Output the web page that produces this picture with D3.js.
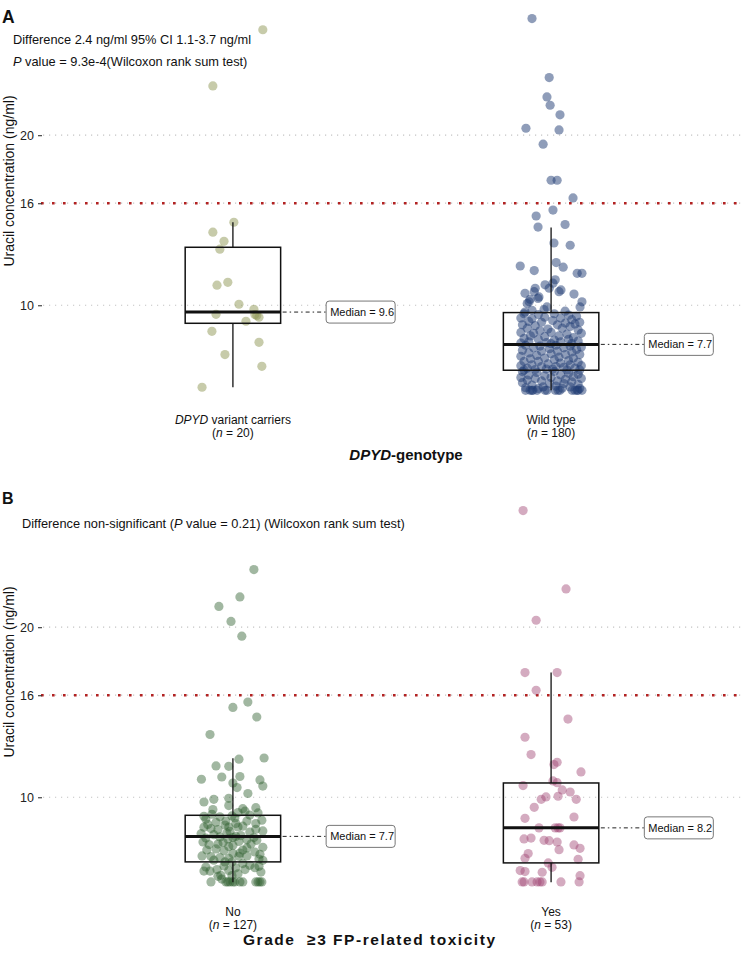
<!DOCTYPE html>
<html><head><meta charset="utf-8">
<script src="https://cdn.jsdelivr.net/npm/d3@7"></script>
<style>body{margin:0;background:#fff}svg{display:block;font-family:"Liberation Sans",Arial,Helvetica,sans-serif}</style>
</head><body><svg id="c" width="743" height="953"></svg>
<script>
// ---------- data ----------
const categoriesA = ["DPYD variant carriers", "Wild type"];
const countsA = [20, 180];
const categoriesB = ["No", "Yes"];
const countsB = [127, 53];
const yTicks = [10, 16, 20];
const thresholdValues = [16];
// box stats: [lower whisker, Q1, median, Q3, upper whisker]
const boxA = [[5.18, 8.94, 9.6, 13.41, 14.88], [5.0, 6.18, 7.7, 9.57, 14.57]];
const boxB = [[5.0, 6.2, 7.7, 8.94, 12.3], [5.0, 6.14, 8.2, 10.84, 17.33]];
// points: [jitter (-1..1 of jitter width), uracil ng/ml]
const carriersPts = [[0.03,14.88],[-0.63,14.3],[-0.28,13.76],[-0.41,13.3],[-0.5,11.18],[-0.16,11.35],[0.19,10.06],
 [-0.53,9.47],[0.66,9.76],[0.75,9.4],[0.82,9.3],[0.69,9.45],[0.41,9.06],[-0.66,8.47],[0.82,7.82],[-0.25,7.1],
 [0.91,6.41],[-0.97,5.18],[0.94,26.2],[-0.63,22.9]];
const wildTypePts = [[-0.6,26.86],[-0.06,23.39],[-0.13,22.25],[-0.03,21.76],[0.28,21.2],[-0.79,20.41],[0.25,20.31],
 [-0.25,19.47],[0.0,17.35],[0.19,17.35],[0.69,16.31],[0.06,15.6],[-0.47,15.25],[-0.41,14.6],[0.44,14.75],[0.09,13.66],
 [0.6,13.53],[-0.97,12.31],[-0.53,12.04],[0.16,12.51],[0.38,12.24],[0.82,11.88],[0.97,11.88],[0.13,11.5],[0.06,11.3],
 [-0.19,11.2],[-0.06,11.0],[-0.5,11.0],[-0.53,10.8],[-0.82,10.7],[0.31,10.9],[0.25,10.8],[0.72,10.66],[-0.38,10.49],
 [-0.66,10.35],[-0.75,10.1],[0.97,10.2],[-0.13,9.9],[0.91,9.9],[-0.6,9.7],[0.44,9.65],[-0.22,9.75],[-0.82,9.6],
 [-0.69,10.2],[-0.41,10.4],
 [-0.85,9.5],[-0.4,9.45],[0.1,9.5],[0.55,9.42],[0.8,9.35],[-0.95,9.25],[-0.6,9.2],[-0.2,9.3],[0.3,9.25],[0.65,9.15],
 [-0.7,9.05],[-0.3,9.0],[0.05,9.1],[0.45,8.95],[0.9,9.0],[-0.9,8.85],[-0.5,8.8],[0.2,8.85],[0.6,8.75],[0.75,8.9],
 [-0.75,8.65],[-0.1,8.6],[0.35,8.65],[0.85,8.55],[-0.35,8.5],[-0.95,8.4],[-0.55,8.35],[0.0,8.4],[0.5,8.3],[0.95,8.35],
 [-0.65,8.2],[-0.2,8.15],[0.25,8.2],[0.7,8.1],[-0.85,8.05],[-0.4,8.0],[0.1,7.95],[0.55,8.0],[0.85,7.9],[-0.7,7.85],
 [-0.15,7.8],[0.3,7.85],[0.65,7.75],[-0.95,7.78],[0.0,7.74],
 [-0.8,7.65],[-0.35,7.6],[0.15,7.65],[0.6,7.6],[0.95,7.55],[-0.55,7.5],[-0.05,7.45],[0.4,7.5],[0.8,7.4],[-0.9,7.35],
 [-0.3,7.3],[0.2,7.3],[0.65,7.25],[-0.7,7.2],[0.0,7.15],[0.45,7.1],[0.9,7.1],[-0.45,7.05],[-0.95,7.0],[0.25,6.95],
 [0.7,6.9],[-0.2,6.9],[-0.65,6.85],[0.1,6.8],[0.55,6.75],[-0.85,6.7],[-0.4,6.7],[0.85,6.65],[0.3,6.6],[-0.1,6.55],
 [-0.6,6.5],[0.6,6.5],[0.95,6.45],[-0.95,6.45],[-0.3,6.4],[0.15,6.4],[0.4,6.35],[-0.75,6.3],[0.75,6.3],[-0.15,6.25],
 [0.05,6.25],[-0.5,6.22],[0.5,6.2],[0.9,6.2],[-0.85,6.19],
 [-0.9,6.1],[-0.45,6.05],[0.1,6.1],[0.55,6.0],[0.85,5.95],[-0.7,5.9],[-0.2,5.85],[0.3,5.9],[0.7,5.8],[-0.95,5.75],
 [-0.5,5.7],[0.0,5.75],[0.45,5.65],[0.95,5.7],[-0.75,5.6],[-0.3,5.55],[0.2,5.55],[0.65,5.5],[-0.9,5.45],[-0.05,5.4],
 [0.4,5.4],[0.85,5.35],[-0.6,5.3],[0.15,5.25],[-0.25,5.2],[0.6,5.2],[-0.8,5.15],[0.9,5.1],[0.35,5.12],[-0.4,5.1],
 [-0.66,5.0],[-0.6,5.0],[-0.57,5.0],[-0.44,5.0],[-0.19,5.0],[-0.13,5.0],[0.13,5.0],[0.22,5.0],[0.28,5.0],[0.66,5.0],
 [0.75,5.0],[0.82,5.0],[0.85,5.0],[0.97,5.0],[-0.8,5.0]];
const noToxPts = [[0.66,23.39],[0.22,21.78],[-0.44,21.22],[-0.06,20.34],[0.28,19.47],[0.0,15.28],[0.47,15.6],[0.75,14.72],
 [-0.72,13.69],[0.19,12.24],[0.98,12.31],[-0.53,11.84],[-0.13,11.82],[-0.99,11.06],[-0.35,11.19],[0.22,11.22],[0.0,10.84],
 [0.13,10.57],[0.85,11.02],[0.94,10.66],[0.47,10.22],[-0.91,9.72],[-0.6,9.88],[-0.13,9.94],[-0.13,9.51],[0.31,9.33],
 [0.38,9.18],[0.72,9.39],[0.79,9.08],[-0.63,9.28],[-0.91,8.88],[-0.03,8.9],[0.06,8.78],[-0.85,8.72],[-0.53,8.53],
 [-0.25,8.37],[0.44,8.6],[0.72,8.45],[0.91,8.65],[-0.91,8.24],[-0.69,8.16],[-0.13,8.25],[0.16,8.25],[0.72,8.12],
 [0.94,8.02],[-1.0,7.86],[-0.19,7.9],[0.25,7.75],[0.66,7.63],[-0.41,7.67],[0.0,7.63],[-0.94,7.37],[-0.75,7.22],
 [-0.31,7.34],[0.0,7.18],[0.44,7.02],[0.75,7.47],[0.94,7.06],[-0.53,6.96],[0.22,6.72],[0.69,6.78],[-0.97,6.55],
 [-0.69,6.51],[-0.41,6.45],[-0.13,6.41],[-0.03,6.19],[0.19,6.53],[0.82,6.37],[0.94,6.29],[-0.91,5.66],[-0.72,5.66],
 [-0.5,5.75],[-0.28,5.96],[0.38,5.75],[0.69,5.86],[0.82,5.94],[-0.35,5.19],[-0.38,5.41],
 [-0.69,5.02],[-0.22,5.02],[-0.16,5.02],[-0.09,5.02],[0.0,5.02],[0.06,5.02],[0.22,5.02],[0.31,5.02],[0.72,5.02],
 [0.79,5.02],[0.85,5.02],[0.91,5.02],
 [-0.66,9.0],[-0.41,8.85],[0.16,9.1],[0.53,8.95],[-0.22,8.6],[0.09,8.45],[0.31,8.3],[-0.79,8.4],[-0.47,8.1],[-0.09,8.0],
 [0.53,7.95],[-0.6,7.8],[0.09,7.7],[0.44,7.5],[-0.16,7.55],[-0.85,7.6],[0.19,7.4],[-0.47,7.25],[-0.13,7.1],[0.57,7.25],
 [0.31,6.9],[-0.28,6.85],[-0.82,6.9],[0.0,6.7],[0.85,6.65],[0.44,6.55],[-0.6,6.3],[-0.25,6.2],[0.31,6.1],[0.53,6.0],
 [0.09,5.85],[-0.13,5.7],[-0.85,5.9],[0.16,5.5],[0.88,5.6],[-0.47,5.35],[-0.03,5.4]];
const yesToxPts = [[-0.88,26.86],[0.47,22.25],[-0.47,20.41],[-0.82,17.33],[0.19,17.33],[-0.47,16.29],[0.53,14.6],
 [-0.82,13.53],[-0.63,12.51],[0.09,11.92],[0.19,12.06],[0.94,11.49],[-0.88,10.69],[0.06,10.96],[0.19,10.86],[0.35,10.43],
 [0.6,10.31],[-0.16,10.02],[-0.31,9.88],[0.22,10.06],[0.79,9.88],[-0.53,9.41],[-0.82,8.76],[0.72,8.84],[-0.38,8.2],
 [0.13,8.2],[0.22,8.2],[0.28,8.2],[-0.85,7.55],[-0.63,7.6],[-0.22,7.47],[-0.06,7.45],[0.19,7.37],[0.25,6.92],[0.72,7.2],
 [0.91,7.0],[-0.72,6.69],[-0.82,6.41],[-0.09,6.14],[0.03,5.88],[0.85,6.35],[-0.97,5.69],[-0.82,5.63],[-0.28,5.59],
 [0.91,5.39],[-0.91,5.02],[-0.85,5.02],[-0.6,5.02],[-0.44,5.02],[-0.35,5.02],[-0.28,5.02],[0.31,5.02],[0.88,5.02]];
const colorsA = ["#8f9755", "#1f3c74"];
const colorsB = ["#2f5f2f", "#a04474"];

// ---------- drawing ----------
const svg = d3.select("#c");
const x = d3.scaleLinear().domain([0.4, 2.6]).range([42, 742]);
const yA = d3.scaleLinear().domain([3.9, 27.95]).range([409, 0]);
const yB = d3.scaleLinear().domain([3.9, 27.95]).range([901, 492]);
const fmt = d3.format(".1f");

function panel(y, boxes, ptsSets, colors, opacity) {
  const g = svg.append("g");
  g.selectAll(".grid").data(yTicks).join("line")
    .attr("x1", x(0.4) + 1).attr("x2", 743)
    .attr("y1", d => y(d)).attr("y2", d => y(d))
    .attr("stroke", "#c4c4c4").attr("stroke-width", 1.2).attr("stroke-dasharray", "1.2,4.8");
  g.selectAll(".thr").data(thresholdValues).join("line")
    .attr("x1", x(0.4) - 1).attr("x2", 743)
    .attr("y1", d => y(d)).attr("y2", d => y(d))
    .attr("stroke", "#b22222").attr("stroke-width", 2.6).attr("stroke-dasharray", "2.6,8.4");
  const ax = g.append("g").attr("transform", `translate(${x(0.4)},0)`)
    .call(d3.axisLeft(y).tickValues(yTicks).tickSize(4).tickPadding(4));
  ax.select(".domain").remove();
  ax.selectAll(".tick line").attr("stroke", "#333").attr("stroke-width", 1.1);
  ax.selectAll(".tick text").attr("font-size", 12.5).attr("fill", "#222")
    .attr("font-family", "'Liberation Sans',Arial,sans-serif");
  ptsSets.forEach((pts, i) => {
    g.append("g").selectAll("circle").data(pts).join("circle")
      .attr("cx", d => x(i + 1 + d[0] * 0.1)).attr("cy", d => y(d[1]))
      .attr("r", 4.6).attr("fill", colors[i]).attr("fill-opacity", opacity);
  });
  boxes.forEach((b, i) => {
    const c = i + 1;
    const bg = g.append("g").attr("stroke", "#111");
    bg.append("line").attr("x1", x(c)).attr("x2", x(c)).attr("y1", y(b[3])).attr("y2", y(b[4])).attr("stroke-width", 1.3);
    bg.append("line").attr("x1", x(c)).attr("x2", x(c)).attr("y1", y(b[1])).attr("y2", y(b[0])).attr("stroke-width", 1.3);
    bg.append("rect").attr("x", x(c - 0.15)).attr("width", x(c + 0.15) - x(c - 0.15))
      .attr("y", y(b[3])).attr("height", y(b[1]) - y(b[3]))
      .attr("fill", "none").attr("stroke-width", 1.5);
    bg.append("line").attr("x1", x(c - 0.15)).attr("x2", x(c + 0.15)).attr("y1", y(b[2])).attr("y2", y(b[2])).attr("stroke-width", 3);
    const lx = x(c + 0.293);
    g.append("line").attr("x1", x(c + 0.15) + 2).attr("x2", lx).attr("y1", y(b[2])).attr("y2", y(b[2]))
      .attr("stroke", "#222").attr("stroke-width", 1).attr("stroke-dasharray", "4,3,1.5,3");
    g.append("rect").attr("x", lx).attr("y", y(b[2]) - 11).attr("width", 69).attr("height", 22).attr("rx", 3)
      .attr("fill", "#fff").attr("stroke", "#777").attr("stroke-width", 1);
    g.append("text").attr("x", lx + 4).attr("y", y(b[2]) + 4).attr("font-size", 11).attr("fill", "#111")
      .text("Median = " + fmt(b[2]));
  });
}

panel(yA, boxA, [carriersPts, wildTypePts], colorsA, 0.5);
panel(yB, boxB, [noToxPts, yesToxPts], colorsB, 0.45);

function txt(xp, yp, size, opts = {}) {
  return svg.append("text").attr("x", xp).attr("y", yp).attr("font-size", size)
    .attr("fill", opts.fill || "#111").attr("text-anchor", opts.anchor || "start")
    .attr("font-weight", opts.weight || "normal");
}
txt(2, 23, 17.5, {weight: "bold"}).text("A");
txt(2, 504, 16, {weight: "bold"}).text("B");
txt(13, 44, 12.8).text("Difference 2.4 ng/ml 95% CI 1.1-3.7 ng/ml");
const p1 = txt(13, 66, 12.8);
p1.append("tspan").attr("font-style", "italic").text("P");
p1.append("tspan").text(" value = 9.3e-4(Wilcoxon rank sum test)");
const p2 = txt(22, 528, 12.8);
p2.append("tspan").text("Difference non-significant (");
p2.append("tspan").attr("font-style", "italic").text("P");
p2.append("tspan").text(" value = 0.21) (Wilcoxon rank sum test)");
svg.append("text").attr("transform", "translate(14,181) rotate(-90)").attr("text-anchor", "middle")
  .attr("font-size", 14).attr("fill", "#111").text("Uracil concentration (ng/ml)");
svg.append("text").attr("transform", "translate(14,672) rotate(-90)").attr("text-anchor", "middle")
  .attr("font-size", 14).attr("fill", "#111").text("Uracil concentration (ng/ml)");
function catLabel(i, yp, name, n) {
  const t1 = txt(x(i + 1), yp, 12, {anchor: "middle"});
  if (name.startsWith("DPYD")) {
    t1.append("tspan").attr("font-style", "italic").text("DPYD");
    t1.append("tspan").text(name.slice(4));
  } else t1.text(name);
  const t2 = txt(x(i + 1), yp + 13, 12, {anchor: "middle"});
  t2.append("tspan").text("(");
  t2.append("tspan").attr("font-style", "italic").text("n");
  t2.append("tspan").text(" = " + n + ")");
}
categoriesA.forEach((c, i) => catLabel(i, 424, c, countsA[i]));
categoriesB.forEach((c, i) => catLabel(i, 916, c, countsB[i]));
const xt1 = txt(406, 460, 15, {anchor: "middle", weight: "bold"});
xt1.append("tspan").attr("font-style", "italic").text("DPYD");
xt1.append("tspan").text("-genotype");
txt(243, 945, 15.5, {weight: "bold"}).attr("xml:space", "preserve")
  .attr("textLength", 252).attr("lengthAdjust", "spacing").text("Grade  \u22653 FP-related toxicity");
</script></body></html>
